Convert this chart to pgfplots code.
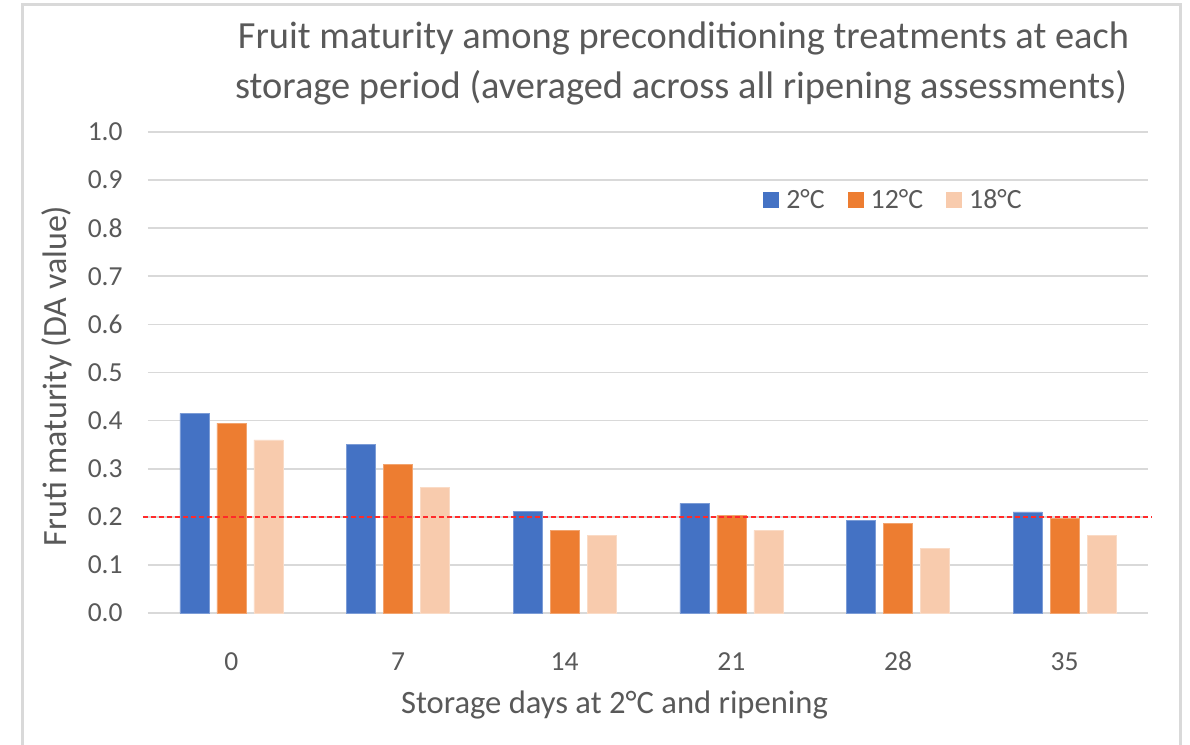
\documentclass[border=0pt]{standalone}
\usepackage{pgfplots}
\pgfplotsset{compat=1.18}
\usepackage{fontspec}
\setmainfont{Carlito}
\definecolor{cblue}{HTML}{4472C4}
\definecolor{corange}{HTML}{ED7D31}
\definecolor{cpeach}{HTML}{F8CBAD}
\definecolor{ctext}{HTML}{595959}
\definecolor{cgrid}{HTML}{D9D9D9}
\definecolor{cred}{HTML}{FF2A2A}
\begin{document}
\begin{tikzpicture}
\useasboundingbox (-74pt,-66pt) rectangle (521pt,306.5pt);
\draw[cgrid, line width=1.5pt] (-62.85pt,-80pt) -- (-62.85pt,304.15pt) -- (516pt,304.15pt) -- (516pt,-80pt);
\begin{axis}[
  at={(0pt,0pt)}, anchor=south west,
  scale only axis, width=500pt, height=240.5pt,
  xmin=-0.5, xmax=5.5, ymin=0, ymax=1,
  clip=false,
  ytick={0,0.1,0.2,0.3,0.4,0.5,0.6,0.7,0.8,0.9,1.0},
  yticklabel style={/pgf/number format/fixed, /pgf/number format/fixed zerofill, /pgf/number format/precision=1},
  /pgf/number format/assume math mode=true,
  xtick={0,1,2,3,4,5}, xticklabels={0,7,14,21,28,35},
  ymajorgrids, grid style={cgrid, line width=0.8pt},
  axis line style={draw=none}, major tick length=0pt,
  tick label style={font=\fontsize{13.75}{16}\selectfont, text=ctext},
  yticklabel style={anchor=east, inner sep=0pt, xshift=-12.5pt},
  xticklabel style={anchor=base, inner sep=0pt, yshift=-28.5pt},
  ybar=4pt, bar width=14.5pt,
  legend style={at={(rel axis cs:0.615,0.8586)}, anchor=west, draw=none, fill=none,
    inner sep=0pt, font=\fontsize{13.9}{16}\selectfont, text=ctext,
    nodes={inner sep=0pt},
    /tikz/every odd column/.style={column sep=3.5pt},
    /tikz/every even column/.style={column sep=11.5pt}},
  legend columns=3,
  legend image code/.code={\path[#1, draw=none] (0pt,-4pt) rectangle (8pt,4pt);},
]
\addplot[fill=cblue, draw=cblue!70!white, line width=0.3pt] coordinates {(0,0.415) (1,0.351) (2,0.212) (3,0.228) (4,0.193) (5,0.210)};
\addplot[fill=corange, draw=corange!70!white, line width=0.3pt] coordinates {(0,0.395) (1,0.309) (2,0.172) (3,0.203) (4,0.186) (5,0.196)};
\addplot[fill=cpeach, draw=cpeach!70!white, line width=0.3pt] coordinates {(0,0.360) (1,0.261) (2,0.162) (3,0.172) (4,0.134) (5,0.162)};
\legend{2°C,12°C,18°C}
\addplot[forget plot, sharp plot, cred, line width=0.9pt, dash pattern=on 2.4pt off 1.6pt, bar shift=0pt] coordinates {(-0.53,0.2) (5.52,0.2)};
\end{axis}
\node[anchor=base, text=ctext, font=\fontsize{16.3}{19}\selectfont, inner sep=0pt] at (233.25pt,-50pt) {Storage days at 2°C and ripening};
\node[rotate=90, anchor=center, text=ctext, font=\fontsize{17}{20}\selectfont, inner sep=0pt] at (-45.5pt,118.5pt) {Fruti maturity (DA value)};
\node[anchor=base, text=ctext, font=\fontsize{19.2}{23}\selectfont, inner sep=0pt] at (267.75pt,282pt) {Fruit maturity among preconditioning treatments at each};
\node[anchor=base, text=ctext, font=\fontsize{19.2}{23}\selectfont, inner sep=0pt] at (266.5pt,257pt) {storage period (averaged across all ripening assessments)};
\end{tikzpicture}
\end{document}
